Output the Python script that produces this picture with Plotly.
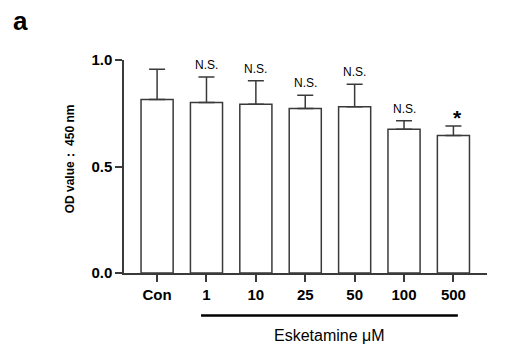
import plotly.graph_objects as go

categories = ["Con", "1", "10", "25", "50", "100", "500"]
means = [0.814, 0.800, 0.792, 0.772, 0.781, 0.675, 0.645]
errors = [0.142, 0.120, 0.111, 0.062, 0.105, 0.040, 0.045]
sig_labels = ["", "N.S.", "N.S.", "N.S.", "N.S.", "N.S.", "*"]
y_ticks = [0.0, 0.5, 1.0]
y_ticktext = ["0.0", "0.5", "1.0"]

FONT = "Liberation Sans, Arial, Helvetica, sans-serif"
DARK = "#3a3a3a"

fig = go.Figure()
fig.add_trace(go.Bar(
    x=categories, y=means, width=0.65,
    marker=dict(color="white", line=dict(color=DARK, width=1.5)),
    error_y=dict(type="data", array=errors, arrayminus=[0] * len(errors),
                 symmetric=False, color=DARK, thickness=1.5, width=8),
    showlegend=False, hoverinfo="skip",
))

annotations = []
for i, (m, e, lab) in enumerate(zip(means, errors, sig_labels)):
    if not lab:
        continue
    if lab == "*":
        annotations.append(dict(x=i, y=m + e, xref="x", yref="y", text="<b>*</b>",
                                showarrow=False, yanchor="bottom", yshift=-5, xshift=4,
                                font=dict(family=FONT, size=21, color="black")))
    else:
        annotations.append(dict(x=i, y=m + e, xref="x", yref="y", text=lab,
                                showarrow=False, yanchor="bottom", yshift=3,
                                font=dict(family=FONT, size=12, color="black")))

annotations.append(dict(x=-0.31, y=1.185, xref="paper", yref="paper", text="<b>a</b>",
                        showarrow=False, xanchor="left", yanchor="middle",
                        font=dict(family=FONT, size=26, color="black")))
annotations.append(dict(x=-0.149, y=0.538, xref="paper", yref="paper",
                        text="<b>OD value： 450 nm</b>", textangle=-90,
                        showarrow=False, xanchor="center", yanchor="middle",
                        font=dict(family=FONT, size=12, color="black")))
annotations.append(dict(x=3.49, y=-0.292, xref="x", yref="paper", text="Esketamine μM",
                        showarrow=False, xanchor="center", yanchor="middle",
                        font=dict(family=FONT, size=16, color="black")))

fig.add_shape(type="line", xref="x", yref="paper", x0=0.89, x1=6.09, y0=-0.2, y1=-0.2,
              line=dict(color="black", width=2.5))

fig.update_layout(
    width=531, height=347,
    margin=dict(l=124, r=44, t=60, b=74),
    plot_bgcolor="white", paper_bgcolor="white",
    annotations=annotations,
    xaxis=dict(type="category", categoryorder="array", categoryarray=categories,
               range=[-0.67, 6.68], showline=True, linecolor=DARK, linewidth=1.5,
               ticks="outside", ticklen=7, tickwidth=1.5, tickcolor=DARK,
               showgrid=False, zeroline=False,
               tickfont=dict(family=FONT, size=15, color="black", weight="bold")),
    yaxis=dict(range=[0, 1.0], tickvals=y_ticks, ticktext=y_ticktext,
               showline=True, linecolor=DARK, linewidth=1.5,
               ticks="outside", ticklen=7, tickwidth=1.5, tickcolor=DARK,
               showgrid=False, zeroline=False,
               tickfont=dict(family=FONT, size=15, color="black", weight="bold")),
)

fig.write_html("out.html", config={"displayModeBar": False},
               post_script="document.body.style.margin='0';document.body.style.overflow='hidden';")
